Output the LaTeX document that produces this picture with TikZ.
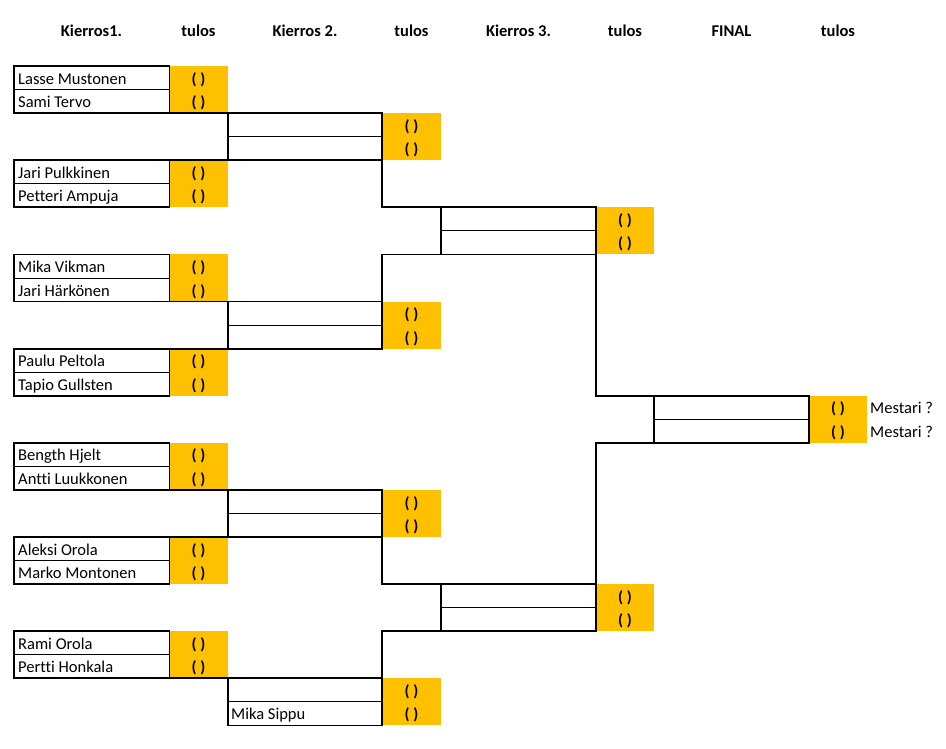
\documentclass[tikz,border=0pt]{standalone}
\usepackage{fontspec}
\setmainfont{Carlito}[Ligatures={NoCommon}]
\definecolor{gold}{HTML}{FFC000}
\begin{document}
\begin{tikzpicture}[x=1pt,y=1pt]
\tikzset{
  outer/.style={line width=1.8pt, line cap=rect},
  inner/.style={line width=0.9pt},
  namet/.style={anchor=base west, inner sep=0pt, font=\fontsize{16.5}{18}\selectfont},
  scoret/.style={anchor=base, inner sep=0pt, font=\bfseries\fontsize{16}{18}\selectfont},
  headt/.style={anchor=base, inner sep=0pt, font=\bfseries\fontsize{16.5}{18}\selectfont},
  cell/.style={fill=gold},
}
\useasboundingbox (0,0) rectangle (946,-748);
\begin{scope}[yshift=-66pt, y=-23.55pt]
% headers
\foreach \x/\t [count=\i] in {91.5/Kierros1., 198.5/tulos, 305/Kierros 2., 411.5/tulos, 518.5/Kierros 3., 625/tulos, 731.5/FINAL, 838/tulos}
  \node[headt] (h\i) at (\x,-1.253) {\t};
% orange cells
\foreach \r in {0,4,8,12,16,20,24} \fill[cell] (169,\r) rectangle (228,{\r+2});
\foreach \r in {2,10,18,26} \fill[cell] (382,\r) rectangle (441,{\r+2});
\foreach \r in {6,22} \fill[cell] (596,\r) rectangle (654,{\r+2});
\fill[cell] (809,14) rectangle (867,16);
% round 1 boxes
\foreach \r in {0,4,8,12,16,20,24} {
  \draw[outer] (14,\r) -- (14,{\r+2});
  \draw[inner] (169,\r) -- (169,{\r+2});
  \draw[inner] (14,{\r+1}) -- (169,{\r+1});
}
\foreach \r in {0,8,16,24} {
  \draw[outer] (14,\r) -- (169,\r);
  \draw[outer] (14,{\r+2}) -- (382,{\r+2});
}
\foreach \r in {4,12,20} {
  \draw[outer] (14,\r) -- (382,\r);
  \draw[outer] (14,{\r+2}) -- (169,{\r+2});
}
% round 2 boxes
\foreach \r in {2,10,18,26} {
  \draw[outer] (228,\r) -- (228,{\r+2});
  \draw[inner] (228,{\r+1}) -- (382,{\r+1});
}
\draw[outer] (228,28) -- (382,28);
\draw[outer] (382,2) -- (382,6);
\draw[outer] (382,8) -- (382,12);
\draw[outer] (382,18) -- (382,22);
\draw[outer] (382,24) -- (382,28);
% round 3 boxes
\foreach \r in {6,22} {
  \draw[outer] (382,\r) -- (596,\r);
  \draw[outer] (382,{\r+2}) -- (596,{\r+2});
  \draw[outer] (441,\r) -- (441,{\r+2});
  \draw[inner] (441,{\r+1}) -- (596,{\r+1});
}
\draw[outer] (596,6) -- (596,14);
\draw[outer] (596,16) -- (596,24);
% final
\draw[outer] (596,14) -- (809,14);
\draw[outer] (596,16) -- (809,16);
\draw[outer] (654,14) -- (654,16);
\draw[inner] (654,15) -- (809,15);
\draw[outer] (809,14) -- (809,16);
% names
\foreach \r/\t [count=\i] in {0/Lasse Mustonen, 1/Sami Tervo, 4/Jari Pulkkinen, 5/Petteri Ampuja, 8/Mika Vikman, 9/Jari Härkönen, 12/Paulu Peltola, 13/Tapio Gullsten, 16/Bength Hjelt, 17/Antti Luukkonen, 20/Aleksi Orola, 21/Marko Montonen, 24/Rami Orola, 25/Pertti Honkala}
  \node[namet] (p\i) at (18,{\r+0.77}) {\t};
\node[namet] (sippu) at (231,27.77) {Mika Sippu};
% scores
\foreach \r [count=\i] in {0,1,4,5,8,9,12,13,16,17,20,21,24,25}
  \node[scoret] (b\i) at (198.5,{\r+0.77}) {( )};
\foreach \r [count=\i] in {2,3,10,11,18,19,26,27}
  \node[scoret] (d\i) at (411.5,{\r+0.77}) {( )};
\foreach \r [count=\i] in {6,7,22,23}
  \node[scoret] (f\i) at (625,{\r+0.77}) {( )};
\foreach \r [count=\i] in {14,15}
  \node[scoret] (g\i) at (838,{\r+0.77}) {( )};
\node[namet] (m1) at (870,14.77) {Mestari ?};
\node[namet] (m2) at (870,15.77) {Mestari ?};
\end{scope}
\end{tikzpicture}
\end{document}
